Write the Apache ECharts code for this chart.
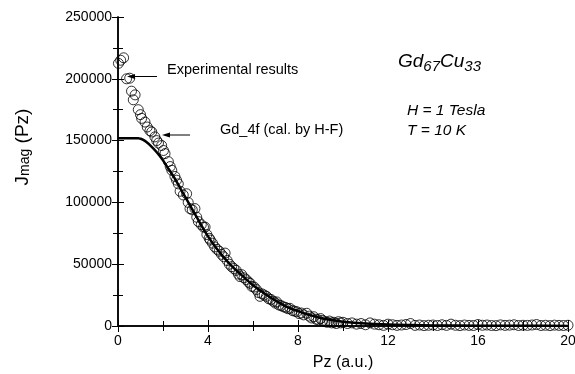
<!DOCTYPE html>
<html><head><meta charset="utf-8">
<script src="https://cdn.jsdelivr.net/npm/echarts@6/dist/echarts.min.js"></script>
<style>html,body{margin:0;padding:0;background:#fff}#c{width:575px;height:374px}</style>
</head><body><div id="c"></div>
<script>
const expPz = [0.02,0.12,0.25,0.38,0.52,0.6,0.68,0.76,0.9,1.0,1.05,1.2,1.3,1.42,1.5,1.64,1.72,1.8,1.94,2.02,2.09,2.24,2.32,2.39,2.53,2.6,2.68,2.76,2.9,3.05,3.12,3.2,3.3,3.42,3.5,3.57,3.7,3.8,3.87,3.95,4.05,4.1,4.2,4.3,4.4,4.5,4.6,4.7,4.76,4.85,4.95,5.05,5.15,5.25,5.35,5.42,5.5,5.6,5.7,5.8,5.87,5.95,6.05,6.15,6.25,6.31,6.4,6.5,6.6,6.7,6.8,6.9,7.0,7.05,7.15,7.25,7.35,7.45,7.55,7.64,7.75,7.85,7.95,8.05,8.15,8.25,8.39,8.5,8.6,8.7,8.8,8.9,9.0,9.1,9.2,9.3,9.4,9.5,9.6,9.7,9.8,9.9,10.0,10.2,10.4,10.6,10.8,11.0,11.2,11.4,11.6,11.8,12.0,12.2,12.4,12.6,12.8,13.0,13.2,13.4,13.6,13.8,14.0,14.2,14.4,14.6,14.8,15.0,15.2,15.4,15.6,15.8,16.0,16.2,16.4,16.6,16.8,17.0,17.2,17.4,17.6,17.8,18.0,18.2,18.4,18.6,18.8,19.0,19.2,19.4,19.6,19.8,20.0];
const expJ = [212500,215000,217000,200000,200500,190000,183000,187000,175000,171000,168000,165000,161000,158000,157000,153000,150000,148000,146000,142000,139500,133000,129000,126000,121000,118000,115000,109000,106000,107000,100000,95000,94000,95000,88000,84500,82000,80000,80000,74000,71000,69500,67000,64000,62000,60500,58000,56000,59000,53000,50000,48000,46500,45000,42000,40000,41500,39000,37500,35500,34500,32000,31500,29500,27000,24000,26000,25000,24000,22000,21500,20000,18500,19500,17000,16500,15500,15000,14000,14300,12500,12000,11500,10000,10500,9000,10300,8000,6500,7500,5500,5000,6000,4500,3500,3000,4000,2500,3000,2000,3500,2500,3000,2000,2500,1500,2000,1000,2500,1500,1000,500,1500,1000,500,800,1200,2000,500,800,300,600,800,400,1000,500,1500,600,300,800,500,400,1200,600,800,400,300,900,500,700,1000,400,600,500,800,1200,400,600,300,700,500,400,600];
const calPz = [0,0.5,0.9,1.0,1.1,1.25,1.5,1.75,2.0,2.25,2.5,2.75,3.0,3.25,3.5,3.75,4.0,4.25,4.5,4.75,5.0,5.5,6.0,6.5,7.0,7.5,8.0,8.5,9.0,9.5,10,11,12,13,14,16,18,20];
const calJ = [152000,152000,152000,151500,150800,149000,145000,140000,134000,127000,120000,112000,104000,96000,88000,80000,72500,66000,60000,54500,49500,41000,33000,26500,20500,15500,12000,9000,6500,4800,3500,2000,1200,800,500,300,200,100];
const xTicks = [0,4,8,12,16,20];
const yTicks = [0,50000,100000,150000,200000,250000];

const chart = echarts.init(document.getElementById('c'));
const ff = 'Liberation Sans, Arial, sans-serif';
const axCommon = {
  axisLine:{show:true,lineStyle:{color:'#000',width:1.5}},
  axisTick:{show:true,inside:true,length:6,lineStyle:{color:'#000',width:1}},
  minorTick:{show:true,splitNumber:2,length:5,lineStyle:{color:'#000',width:1}},
  splitLine:{show:false}
};
chart.setOption({
  animation:false,
  backgroundColor:'#fff',
  grid:{left:118,right:7,top:17,bottom:48,containLabel:false,outerBoundsMode:'none'},
  xAxis:[
    Object.assign({type:'value',min:xTicks[0],max:xTicks[xTicks.length-1],interval:4,position:'bottom',
      name:'Pz (a.u.)',nameLocation:'middle',nameGap:29,nameTextStyle:{fontSize:16,fontFamily:ff,color:'#000'},
      axisLabel:{fontSize:14,fontFamily:ff,color:'#000',margin:8}},axCommon),
    Object.assign({type:'value',min:0,max:20,interval:4,position:'top',axisLabel:{show:false}},axCommon)
  ],
  yAxis:[
    Object.assign({type:'value',min:yTicks[0],max:yTicks[yTicks.length-1],interval:50000,position:'left',
      axisLabel:{fontSize:14,fontFamily:ff,color:'#000',margin:6,formatter:v=>String(v)}},axCommon),
    Object.assign({type:'value',min:0,max:250000,interval:50000,position:'right',axisLabel:{show:false}},axCommon)
  ],
  graphic:[
    {type:'group',x:21,y:147,rotation:Math.PI/2,children:[
      {type:'text',x:0,y:0,style:{text:'{a|J}{b|mag}{a| (Pz)}',fontFamily:ff,fill:'#000',align:'center',verticalAlign:'middle',
        rich:{a:{fontSize:19,fontFamily:ff,verticalAlign:'bottom'},b:{fontSize:14,fontFamily:ff,padding:[9,0,0,0],verticalAlign:'bottom'}}}}
    ]},
    {type:'text',left:167,top:62,style:{text:'Experimental results',fontSize:14.5,fontFamily:ff,fill:'#000'}},
    {type:'line',shape:{x1:157,y1:76.5,x2:130,y2:76.5},style:{stroke:'#000',lineWidth:1}},
    {type:'polygon',shape:{points:[[127,76.5],[135,74],[135,79]]},style:{fill:'#000'}},
    {type:'text',left:220,top:122,style:{text:'Gd_4f (cal. by H-F)',fontSize:14.5,fontFamily:ff,fill:'#000'}},
    {type:'line',shape:{x1:190,y1:135,x2:165,y2:135},style:{stroke:'#000',lineWidth:1}},
    {type:'polygon',shape:{points:[[162,135],[170,132.5],[170,137.5]]},style:{fill:'#000'}},
    {type:'text',left:398,top:52,style:{text:'{a|Gd}{b|67}{a|Cu}{b|33}',fill:'#000',
      rich:{a:{fontSize:19,fontStyle:'italic',fontFamily:ff},b:{fontSize:15,fontStyle:'italic',fontFamily:ff,padding:[11,0,0,0]}}}},
    {type:'text',left:407,top:103,style:{text:'H = 1 Tesla',fontSize:15.5,fontStyle:'italic',fontFamily:ff,fill:'#000'}},
    {type:'text',left:407,top:123,style:{text:'T = 10 K',fontSize:15.5,fontStyle:'italic',fontFamily:ff,fill:'#000'}}
  ],
  series:[
    {type:'scatter',xAxisIndex:0,yAxisIndex:0,symbol:'circle',symbolSize:10,
      itemStyle:{color:'rgba(0,0,0,0)',borderColor:'#000',borderWidth:1},
      data:expPz.map((x,i)=>[x,expJ[i]])},
    {type:'line',xAxisIndex:0,yAxisIndex:0,showSymbol:false,smooth:0.3,
      lineStyle:{color:'#000',width:2.5},
      data:calPz.map((x,i)=>[x,calJ[i]])}
  ]
});
</script></body></html>
